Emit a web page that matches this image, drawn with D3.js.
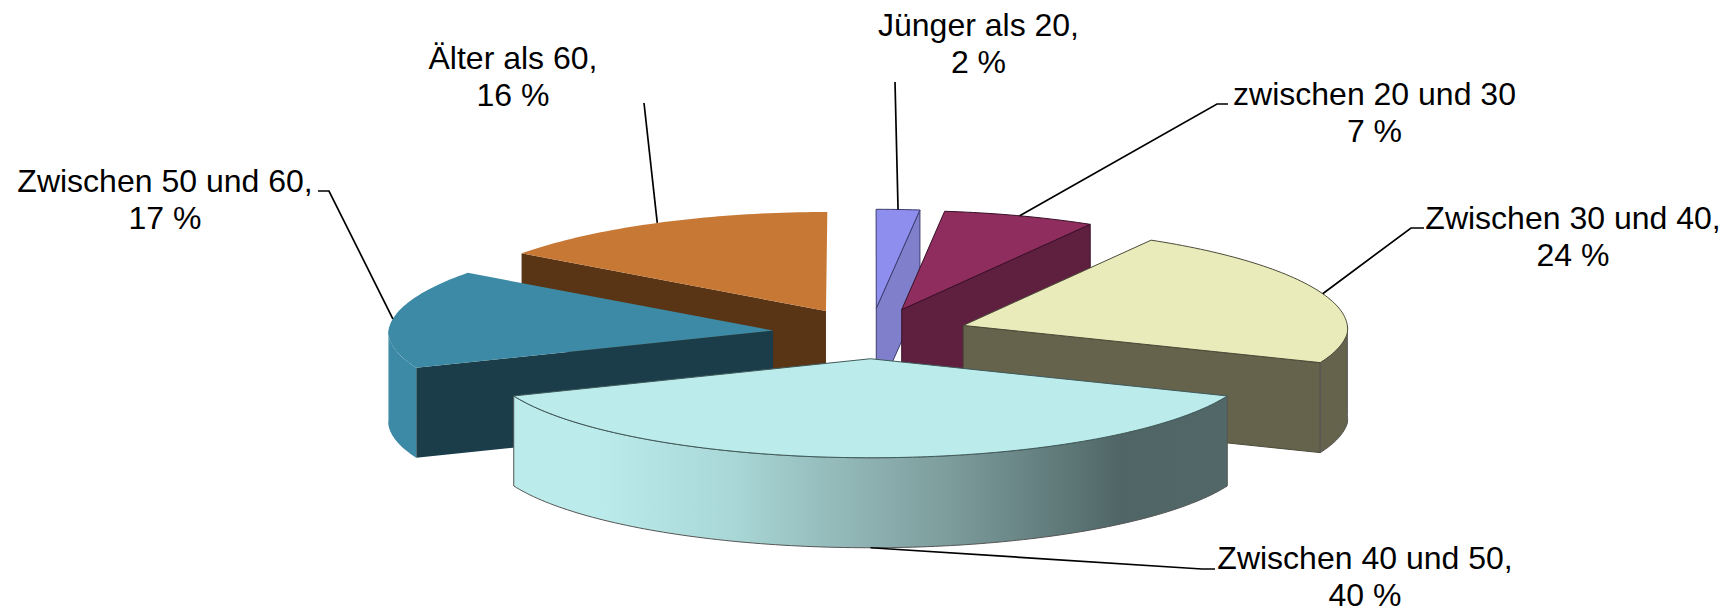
<!DOCTYPE html>
<html><head><meta charset="utf-8">
<script src="https://cdn.jsdelivr.net/npm/d3@7"></script>
<style>html,body{margin:0;background:#fff}svg{display:block}text{font-family:"Liberation Sans",Arial,sans-serif;font-size:32px;fill:#000;text-anchor:middle}</style>
</head><body><svg id="c" width="1735" height="612"></svg>
<script>
const categories=["Jünger als 20,","zwischen 20 und 30","Zwischen 30 und 40,","Zwischen 40 und 50,","Zwischen 50 und 60,","Älter als 60,"];
const values=[2,7,24,40,17,16];
const valueLabels=["2 %","7 %","24 %","40 %","17 %","16 %"];
const topColors=["#8E8EEE","#8E2D5E","#EAEBBB","#BBEBEB","#3C8AA5","#C77835"];
const sideColors=["#7F7FCC","#5F2040","#66634C","#506666","#1B3D4A","#5A3515"];
const wallColors=["#7F7FCC","#5F2040","#66634C","url(#wall)","#3C8AA5","#5A3515"];
const strokeColors=["#3c3c70","#3a1028","#4a4a38","#3f5a5a","none","none"];
const drawOrder=[0,1,2,5,4,3];
// label layout: text centre, first baseline, leader start and elbow
const labelX=[978.5,1374.5,1573,1365,165,513];
const labelY=[36,105,229,569,192,69];
const leaderPts=[[[895,82]],[[1228,104],[1217,104]],[[1424,228],[1411,228]],[[1215,569],[1202,569]],[[318,191],[329,191]],[[644,103]]];
const lineGap=36.5;

const cx=870.5,cy=333.5,rx=385,ry=99,depth=90,explode=0.255,backNarrow=0.03;
const svg=d3.select("#c");
const grad=svg.append("defs").append("linearGradient").attr("id","wall").attr("x1","0").attr("x2","1").attr("y1","0").attr("y2","0");
[[0,"#BBEBEB"],[0.12,"#BBEBEB"],[0.3,"#AAD8D8"],[0.45,"#94BABA"],[0.6,"#7F9E9E"],[0.72,"#688484"],[0.85,"#506666"],[1,"#526868"]]
  .forEach(([o,c])=>grad.append("stop").attr("offset",o).attr("stop-color",c));

const arcs=d3.pie().sort(null).value(d=>d)(values);
const sx=d3.scaleLinear().domain([-1,1]).range([-rx,rx]);
const sy=d3.scaleLinear().domain([-1,1]).range([-ry,ry]);
// ground-plane projection with a mild perspective: the far side narrows
function project(x,y){
  const t=y/ry;
  const f=1+(t<0?backNarrow*t:0);
  return [cx+x*f,cy+y];
}
const pt=(a,r,ox,oy)=>project(ox+sx(Math.sin(a)*r),oy+sy(-Math.cos(a)*r));
const line=d3.line();
const HALF=Math.PI/2;
const down=p=>[p[0],p[1]+depth];
function samples(a0,a1){const n=Math.max(2,Math.ceil(Math.abs(a1-a0)/0.02));return d3.range(n+1).map(i=>a0+(a1-a0)*i/n);}

drawOrder.forEach(i=>{
  const d=arcs[i],mid=(d.startAngle+d.endAngle)/2;
  const ox=sx(Math.sin(mid)*explode),oy=sy(-Math.cos(mid)*explode);
  const g=svg.append("g");
  const apex=pt(0,0,ox,oy),st=pt(d.startAngle,1,ox,oy),en=pt(d.endAngle,1,ox,oy);
  const stroke=strokeColors[i],sw=1;
  if(d.endAngle<Math.PI){
    g.append("path").attr("d",line([apex,en,down(en),down(apex)])+"Z").attr("fill",sideColors[i]).attr("stroke",stroke).attr("stroke-width",sw);
  }
  if(d.startAngle>Math.PI){
    g.append("path").attr("d",line([apex,st,down(st),down(apex)])+"Z").attr("fill",sideColors[i]).attr("stroke",stroke).attr("stroke-width",sw);
  }
  const a0=Math.max(d.startAngle,HALF),a1=Math.min(d.endAngle,3*HALF);
  if(a1>a0){
    const s=samples(a0,a1);
    const upper=s.map(a=>pt(a,1,ox,oy));
    const lower=s.slice().reverse().map(a=>down(pt(a,1,ox,oy)));
    g.append("path").attr("d",line(upper.concat(lower))+"Z").attr("fill",wallColors[i]).attr("stroke",stroke==="none"?"none":"#555").attr("stroke-width",sw);
  }
  const rim=samples(d.startAngle,d.endAngle).map(a=>pt(a,1,ox,oy));
  g.append("path").attr("d",line([apex].concat(rim))+"Z").attr("fill",topColors[i]).attr("stroke",stroke).attr("stroke-width",sw).attr("stroke-linejoin","round");
});
categories.forEach((c,i)=>{
  const d=arcs[i],mid=(d.startAngle+d.endAngle)/2;
  const ox=sx(Math.sin(mid)*explode),oy=sy(-Math.cos(mid)*explode);
  const front=Math.cos(mid)<0&&Math.abs(Math.sin(mid))<0.5;
  let anchor=pt(mid,1,ox,oy);
  if(front) anchor=down(anchor);
  svg.append("path").attr("d",line(leaderPts[i].concat([anchor]))).attr("fill","none").attr("stroke","#000").attr("stroke-width",1.7);
  const t=svg.append("text").attr("x",labelX[i]).attr("y",labelY[i]);
  t.append("tspan").attr("x",labelX[i]).text(c);
  t.append("tspan").attr("x",labelX[i]).attr("dy",lineGap).text(valueLabels[i]);
});
</script></body></html>
